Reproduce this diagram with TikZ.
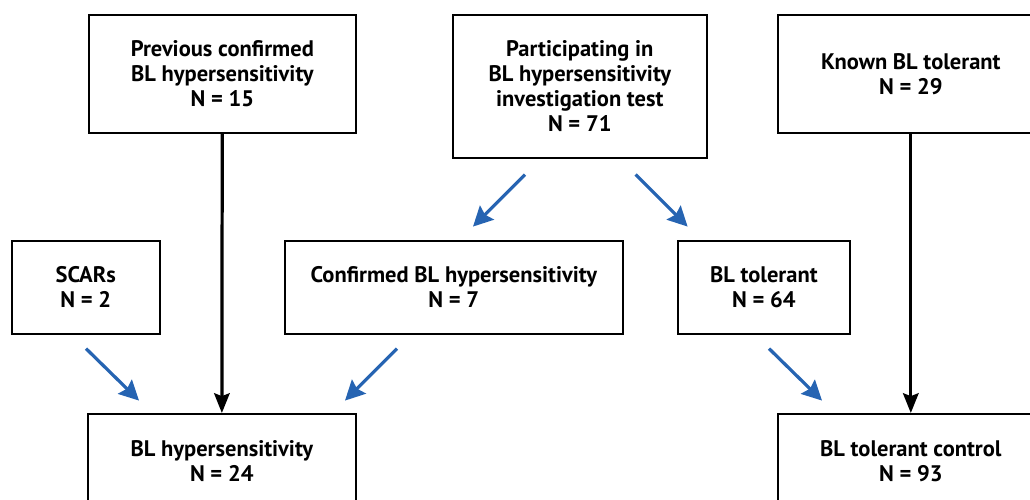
\documentclass[tikz,border=0pt]{standalone}
\usepackage{fontspec}
\setmainfont{PT Sans}
\usepackage{tikz}
\usetikzlibrary{arrows.meta,positioning,calc}
\definecolor{flowblue}{RGB}{38,100,178}

\begin{document}
\begin{tikzpicture}[x=0.025cm, y=-0.025cm, font=\bfseries\fontsize{16}{17.8}\selectfont,
  box/.style={draw, line width=1.1pt, align=center, inner sep=0pt, anchor=north west},
  blk/.style={line width=2.3pt, -{Stealth[length=14pt,width=11pt,inset=2pt]}},
  blu/.style={draw=flowblue, line width=2.3pt, -{Stealth[length=14pt,width=14pt,inset=2pt]}}]
  \useasboundingbox (0,0) rectangle (1030,499);
  \clip (0,0) rectangle (1030,499);
  % sources
  \node[box, minimum width=6.675cm, minimum height=2.95cm] (prev) at (88,14) {Previous confirmed\\BL hypersensitivity\\N = 15};
  \node[box, minimum width=6.35cm, minimum height=3.575cm] (part) at (452,14) {Participating in\\BL hypersensitivity\\investigation test\\N = 71};
  \node[box, minimum width=6.65cm, minimum height=2.95cm] (known) at (777,14) {Known BL tolerant\\N = 29};
  % middle row
  \node[box, minimum width=3.7cm, minimum height=2.325cm] (scars) at (11,240) {SCARs\\N = 2};
  \node[box, minimum width=8.45cm, minimum height=2.325cm] (conf) at (284,240) {Confirmed BL hypersensitivity\\N = 7};
  \node[box, minimum width=4.3cm, minimum height=2.325cm] (tol) at (677,240) {BL tolerant\\N = 64};
  % groups
  \node[box, minimum width=6.7cm, minimum height=2.35cm] (hyper) at (87,413) {BL hypersensitivity\\N = 24};
  \node[box, minimum width=6.65cm, minimum height=2.35cm] (ctrl) at (777,413) {BL tolerant control\\N = 93};
  % arrows
  \draw[blk] (prev) -- (hyper);
  \draw[blk] (known) -- (ctrl);
  \draw[blu] ([shift={(73,16)}]part.south west) -- ++(-52,52);
  \draw[blu] ([shift={(-72,16)}]part.south east) -- ++(52,52);
  \draw[blu] ([shift={(75,14)}]scars.south west) -- ++(53,52);
  \draw[blu] ([shift={(113,14)}]conf.south west) -- ++(-52,52);
  \draw[blu] ([shift={(92,14)}]tol.south west) -- ++(53,52);
\end{tikzpicture}
\end{document}
